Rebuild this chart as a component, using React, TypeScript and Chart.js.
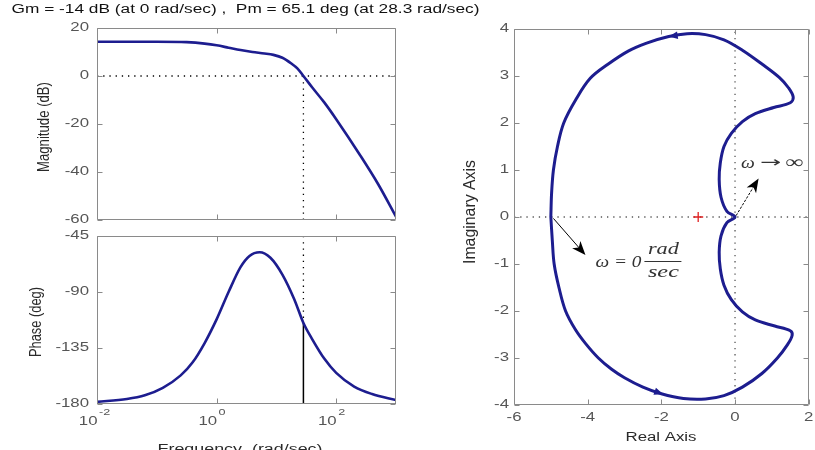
import React, { useEffect, useRef } from "react";
import { Chart, registerables } from "chart.js";

Chart.register(...registerables);

const W = 815;
const H = 450;

// ---------- text ----------
const titleText = "Gm = -14 dB (at 0 rad/sec) ,  Pm = 65.1 deg (at 28.3 rad/sec)";
const magLabel = "Magnitude (dB)";
const phaseLabel = "Phase (deg)";
const freqLabel = "Frequency  (rad/sec)";
const reLabel = "Real Axis";
const imLabel = "Imaginary Axis";

// ---------- margins ----------
const crossoverFreq = 28.3;
const phaseAtCrossover = -114.9;

// ---------- Bode magnitude ----------
const magFreq = [0.01, 0.1, 0.316, 0.631, 1, 1.585, 2.512, 3.981, 6.31, 8.913, 12.59, 17.78, 22.39, 28.3, 39.81, 63.1, 100, 251.2, 501.2, 1000];
const magDb = [14.3, 14.3, 14.1, 13.5, 12.8, 11.8, 10.8, 10.0, 9.4, 8.8, 7.6, 5.2, 3.2, 0, -4.8, -11, -18, -33, -45, -58.6];

// ---------- Bode phase ----------
const phaseFreq = [0.01, 0.0316, 0.0631, 0.126, 0.251, 0.398, 0.631, 1, 1.585, 2.512, 3.548, 5.248, 7.943, 12.59, 19.95, 28.3, 39.81, 63.1, 100, 199.5, 398.1, 1000];
const phaseDeg = [-178.3, -176, -173, -167, -157, -146.5, -131, -112, -90, -70, -61, -58, -62.5, -76, -96, -114.9, -128, -143.5, -155, -166, -172, -176.8];

// ---------- Nyquist (w = 0 -> +inf along the lower branch, then -inf -> 0 along the upper) ----------
const nyqRe = [
  -5.0, -4.96, -4.91, -4.78, -4.6, -4.33, -4.05, -3.71, -3.35, -3.0, -2.5, -2.0, -1.4, -0.8, -0.3, 0.2, 0.73, 1.15, 1.42, 1.55, 1.5, 1.08, 0.55, 0.2, -0.1, -0.3, -0.4, -0.43, -0.38, -0.22, 0,
  -0.22, -0.38, -0.43, -0.4, -0.3, -0.1, 0.2, 0.55, 1.05, 1.5, 1.58, 1.45, 1.2, 0.74, 0.2, -0.3, -0.8, -1.3, -1.8, -2.4, -2.9, -3.45, -3.93, -4.32, -4.65, -4.82, -4.93, -4.98, -5.0,
];
const nyqIm = [
  0, -0.5, -1.0, -1.5, -2.0, -2.4, -2.7, -3.0, -3.24, -3.42, -3.62, -3.76, -3.86, -3.87, -3.8, -3.62, -3.33, -3.0, -2.72, -2.52, -2.42, -2.32, -2.19, -2.02, -1.76, -1.45, -1.1, -0.75, -0.4, -0.12, 0,
  0.12, 0.42, 0.8, 1.15, 1.5, 1.78, 2.03, 2.2, 2.33, 2.43, 2.55, 2.75, 2.97, 3.25, 3.55, 3.77, 3.88, 3.9, 3.84, 3.7, 3.53, 3.25, 2.95, 2.5, 2.0, 1.5, 1.0, 0.5, 0,
];
const criticalPoint = { re: -1, im: 0 };

// ---------- ticks ----------
const magTicks = [20, 0, -20, -40, -60];
const phaseTicks = [-45, -90, -135, -180];
const freqTickExp = [-2, 0, 2];
const reTicks = [-6, -4, -2, 0, 2];
const imTicks = [4, 3, 2, 1, 0, -1, -2, -3, -4];

// ---------- styles ----------
const NAVY = "#1d1d8f";
const BOX = "#8a8a8a";
const TICKC = "#555555";
const LABELC = "#2a2a2a";
const SANS = '"Liberation Sans", Arial, Helvetica, sans-serif';
const SERIF = '"Liberation Serif", "DejaVu Serif", "Times New Roman", serif';
const SX = 1.4;
const TL = 5;

type TOpt = {
  size?: number; family?: string; style?: string; color?: string;
  align?: CanvasTextAlign; baseline?: CanvasTextBaseline;
  sx?: number; width?: number; rotate?: boolean; thick?: number;
};

function drawText(ctx: CanvasRenderingContext2D, s: string, x: number, y: number, o: TOpt = {}) {
  ctx.save();
  ctx.font = `${o.style || ""} ${o.size || 12}px ${o.family || SANS}`;
  ctx.fillStyle = o.color || "#000";
  ctx.textBaseline = o.baseline || "middle";
  ctx.textAlign = o.align || "center";
  const m = ctx.measureText(s).width;
  let k = o.sx ?? 1;
  if (o.width) k = o.width / m;
  ctx.translate(x, y);
  if (o.rotate) ctx.rotate(-Math.PI / 2);
  ctx.scale(k, o.thick ?? 1);
  ctx.fillText(s, 0, 0);
  ctx.restore();
}

function arrowHead(ctx: CanvasRenderingContext2D, tx: number, ty: number, ux: number, uy: number, len: number, half: number, notch: number, color: string) {
  const n = Math.hypot(ux, uy);
  ux /= n; uy /= n;
  const px = -uy, py = ux;
  const bx = tx - ux * len, by = ty - uy * len;
  ctx.save();
  ctx.fillStyle = color;
  ctx.beginPath();
  ctx.moveTo(tx, ty);
  ctx.lineTo(bx + px * half, by + py * half);
  ctx.lineTo(tx - ux * len * notch, ty - uy * len * notch);
  ctx.lineTo(bx - px * half, by - py * half);
  ctx.closePath();
  ctx.fill();
  ctx.restore();
}

function arrow(ctx: CanvasRenderingContext2D, x0: number, y0: number, x1: number, y1: number, dash: number[]) {
  const ux = x1 - x0, uy = y1 - y0;
  const n = Math.hypot(ux, uy);
  ctx.save();
  ctx.strokeStyle = "#000";
  ctx.lineWidth = 1;
  ctx.setLineDash(dash);
  ctx.beginPath();
  ctx.moveTo(x0, y0);
  ctx.lineTo(x1 - (ux / n) * 8, y1 - (uy / n) * 8);
  ctx.stroke();
  ctx.restore();
  arrowHead(ctx, x1, y1, ux, uy, 14, 5.5, 0.72, "#000");
}

type FrameCfg = {
  xTicks: number[];
  yTicks: number[];
  yGap: number;
  xLabels: "none" | "log" | "linear";
  xLabelDy: number;
  extra?: (chart: any) => void;
};

function makeFrame(id: string, cfg: FrameCfg) {
  return {
    id,
    afterDatasetsDraw(chart: any) {
      const ctx: CanvasRenderingContext2D = chart.ctx;
      const a = chart.chartArea;
      const xs = chart.scales.x;
      const ys = chart.scales.y;
      const L = Math.round(a.left) + 0.5;
      const R = Math.round(a.right) - 0.5;
      const T = Math.round(a.top) + 0.5;
      const B = Math.round(a.bottom) - 0.5;
      ctx.save();
      ctx.strokeStyle = BOX;
      ctx.lineWidth = 1;
      ctx.beginPath();
      ctx.rect(L, T, R - L, B - T);
      for (const xv of cfg.xTicks) {
        const px = Math.round(xs.getPixelForValue(xv)) + 0.5;
        ctx.moveTo(px, T); ctx.lineTo(px, T + TL);
        ctx.moveTo(px, B); ctx.lineTo(px, B - TL);
      }
      for (const yv of cfg.yTicks) {
        const py = Math.round(ys.getPixelForValue(yv)) + 0.5;
        ctx.moveTo(L, py); ctx.lineTo(L + TL, py);
        ctx.moveTo(R, py); ctx.lineTo(R - TL, py);
      }
      ctx.stroke();
      ctx.restore();
      for (const yv of cfg.yTicks) {
        drawText(ctx, String(yv), a.left - cfg.yGap, ys.getPixelForValue(yv), { align: "right", sx: SX, color: TICKC });
      }
      if (cfg.xLabels === "linear") {
        for (const xv of cfg.xTicks) {
          drawText(ctx, String(xv), xs.getPixelForValue(xv), a.bottom + cfg.xLabelDy, { sx: SX, color: TICKC });
        }
      } else if (cfg.xLabels === "log") {
        for (const xv of cfg.xTicks) {
          const px = xs.getPixelForValue(xv);
          const e = Math.round(Math.log10(xv));
          drawText(ctx, "10", px + 0.5, a.bottom + cfg.xLabelDy, { align: "right", sx: SX, color: TICKC });
          drawText(ctx, String(e), px + 2, a.bottom + cfg.xLabelDy - 9.5, { align: "left", size: 9, sx: SX, color: TICKC });
        }
      }
      if (cfg.extra) cfg.extra(chart);
    },
  };
}

const pts = (xs: number[], ys: number[]) => xs.map((x, i) => ({ x, y: ys[i] }));

const baseOptions = (pad: { left: number; top: number; right: number; bottom: number }, x: any, y: any) => ({
  responsive: false,
  animation: false as const,
  devicePixelRatio: 1,
  events: [] as any[],
  layout: { padding: { left: pad.left, top: pad.top, right: W - pad.right, bottom: H - pad.bottom } },
  plugins: { legend: { display: false }, tooltip: { enabled: false }, title: { display: false } },
  scales: { x: { ...x, display: false }, y: { ...y, display: false } },
});

const dotted = (data: { x: number; y: number }[], color = "#000") => ({
  data,
  borderColor: color,
  borderWidth: 1.3,
  borderDash: [1.3, 4.9],
  pointRadius: 0,
  fill: false,
  tension: 0,
});

function makeMag(canvas: HTMLCanvasElement) {
  return new Chart(canvas, {
    type: "line",
    data: {
      datasets: [
        { data: pts(magFreq, magDb), borderColor: NAVY, borderWidth: 2.6, pointRadius: 0, fill: false, cubicInterpolationMode: "monotone" } as any,
        dotted([{ x: magFreq[0], y: 0 }, { x: magFreq[magFreq.length - 1], y: 0 }]),
        dotted([{ x: crossoverFreq, y: 0 }, { x: crossoverFreq, y: magTicks[magTicks.length - 1] }]),
      ],
    },
    options: baseOptions(
      { left: 97, top: 28, right: 396, bottom: 220 },
      { type: "logarithmic", min: 0.01, max: 1000 },
      { type: "linear", min: -60, max: 20 }
    ) as any,
    plugins: [
      makeFrame("magFrame", {
        xTicks: freqTickExp.map((e) => Math.pow(10, e)),
        yTicks: magTicks,
        yGap: 8,
        xLabels: "none",
        xLabelDy: 0,
        extra: (chart: any) => {
          const ctx = chart.ctx as CanvasRenderingContext2D;
          drawText(ctx, titleText, 11.5, 10, { align: "left", width: 468, color: "#111" });
          drawText(ctx, magLabel, 45, 127, { rotate: true, size: 13, width: 90, thick: 1.2, color: LABELC });
        },
      }),
    ],
  });
}

function makePhase(canvas: HTMLCanvasElement) {
  return new Chart(canvas, {
    type: "line",
    data: {
      datasets: [
        { data: pts(phaseFreq, phaseDeg), borderColor: NAVY, borderWidth: 2.6, pointRadius: 0, fill: false, cubicInterpolationMode: "monotone" } as any,
        {
          data: [{ x: crossoverFreq, y: phaseAtCrossover }, { x: crossoverFreq, y: -180 }],
          borderColor: "#000", borderWidth: 1.5, pointRadius: 0, fill: false,
        },
        dotted([{ x: phaseFreq[0], y: -180 }, { x: phaseFreq[phaseFreq.length - 1], y: -180 }]),
        dotted([{ x: crossoverFreq, y: -45 }, { x: crossoverFreq, y: phaseAtCrossover }]),
      ],
    },
    options: baseOptions(
      { left: 97, top: 236, right: 396, bottom: 404 },
      { type: "logarithmic", min: 0.01, max: 1000 },
      { type: "linear", min: -180, max: -45 }
    ) as any,
    plugins: [
      makeFrame("phaseFrame", {
        xTicks: freqTickExp.map((e) => Math.pow(10, e)),
        yTicks: phaseTicks,
        yGap: 8,
        xLabels: "log",
        xLabelDy: 18,
        extra: (chart: any) => {
          const ctx = chart.ctx as CanvasRenderingContext2D;
          drawText(ctx, phaseLabel, 37, 322, { rotate: true, size: 13, width: 70, thick: 1.2, color: LABELC });
          drawText(ctx, freqLabel, 240, 453, { width: 165, baseline: "alphabetic", color: LABELC });
        },
      }),
    ],
  });
}

function makeNyquist(canvas: HTMLCanvasElement) {
  return new Chart(canvas, {
    type: "scatter",
    data: {
      datasets: [
        { data: pts(nyqRe, nyqIm), showLine: true, borderColor: NAVY, borderWidth: 3, pointRadius: 0, tension: 0.35, borderJoinStyle: "round", fill: false } as any,
        { data: [{ x: criticalPoint.re, y: criticalPoint.im }], pointStyle: "cross", pointRadius: 5, borderColor: "#e02020", borderWidth: 1.3, showLine: false },
        { ...dotted([{ x: reTicks[0], y: 0 }, { x: reTicks[reTicks.length - 1], y: 0 }], "#555"), showLine: true },
        { ...dotted([{ x: 0, y: imTicks[imTicks.length - 1] }, { x: 0, y: imTicks[0] }], "#555"), showLine: true },
      ],
    },
    options: baseOptions(
      { left: 514, top: 29, right: 814, bottom: 405 },
      { type: "linear", min: -6, max: 2 },
      { type: "linear", min: -4, max: 4 }
    ) as any,
    plugins: [
      makeFrame("nyqFrame", {
        xTicks: reTicks,
        yTicks: imTicks,
        yGap: 5,
        xLabels: "linear",
        xLabelDy: 13,
        extra: (chart: any) => {
          const ctx = chart.ctx as CanvasRenderingContext2D;
          const xs = chart.scales.x, ys = chart.scales.y;
          const P = (re: number, im: number) => [xs.getPixelForValue(re), ys.getPixelForValue(im)];
          // direction arrows on the curve
          const [ax1, ay1] = P(-1.8, 3.84);
          const [bx1, by1] = P(-1.3, 3.9);
          arrowHead(ctx, ax1, ay1, ax1 - bx1, ay1 - by1, 9, 3.8, 1, NAVY);
          const [ax2, ay2] = P(-1.95, -3.77);
          const [bx2, by2] = P(-2.5, -3.62);
          arrowHead(ctx, ax2, ay2, ax2 - bx2, ay2 - by2, 9, 3.8, 1, NAVY);
          // annotation arrows
          const [s1x, s1y] = P(-4.93, -0.03);
          const [t1x, t1y] = P(-4.06, -0.81);
          arrow(ctx, s1x, s1y, t1x, t1y, []);
          const [s2x, s2y] = P(0.03, 0.03);
          const [t2x, t2y] = P(0.64, 0.82);
          arrow(ctx, s2x, s2y, t2x, t2y, [2.5, 1.5]);
          // annotation text
          const [wx, wy] = P(0.16, 1.14);
          drawText(ctx, "\u03c9", wx, wy, { align: "left", family: SERIF, style: "italic", size: 17, sx: 1.15, color: "#333" });
          drawText(ctx, "\u2192", wx + 19, wy, { align: "left", family: '"DejaVu Sans", sans-serif', size: 15, width: 21, color: "#333" });
          drawText(ctx, "\u221e", wx + 44, wy, { align: "left", family: SERIF, size: 18, width: 18, color: "#333" });
          const [zx, zy] = P(-3.79, -0.96);
          drawText(ctx, "\u03c9 = 0", zx, zy, { align: "left", family: SERIF, style: "italic", size: 17, width: 46, color: "#333" });
          const fx = zx + 68;
          drawText(ctx, "rad", fx, zy - 13, { family: SERIF, style: "italic", size: 17, width: 31, color: "#333" });
          drawText(ctx, "sec", fx, zy + 10, { family: SERIF, style: "italic", size: 17, width: 31, color: "#333" });
          ctx.save();
          ctx.strokeStyle = "#333";
          ctx.lineWidth = 1;
          ctx.beginPath();
          ctx.moveTo(fx - 19, Math.round(zy) - 0.5);
          ctx.lineTo(fx + 18, Math.round(zy) - 0.5);
          ctx.stroke();
          ctx.restore();
          // axis labels
          drawText(ctx, reLabel, 661, 438, { width: 71, color: LABELC });
          drawText(ctx, imLabel, 471, 212, { rotate: true, size: 13, width: 104, thick: 1.2, color: LABELC });
        },
      }),
    ],
  });
}

export default function App() {
  const r1 = useRef<HTMLCanvasElement>(null);
  const r2 = useRef<HTMLCanvasElement>(null);
  const r3 = useRef<HTMLCanvasElement>(null);
  useEffect(() => {
    const charts = [makeMag(r1.current!), makePhase(r2.current!), makeNyquist(r3.current!)];
    return () => charts.forEach((c) => c.destroy());
  }, []);
  const st: React.CSSProperties = { position: "absolute", left: 0, top: 0, width: W, height: H };
  return (
    <div style={{ position: "absolute", left: 0, top: 0, width: W, height: H, background: "#fff", overflow: "hidden" }}>
      <canvas ref={r1} width={W} height={H} style={st} />
      <canvas ref={r2} width={W} height={H} style={st} />
      <canvas ref={r3} width={W} height={H} style={st} />
    </div>
  );
}
